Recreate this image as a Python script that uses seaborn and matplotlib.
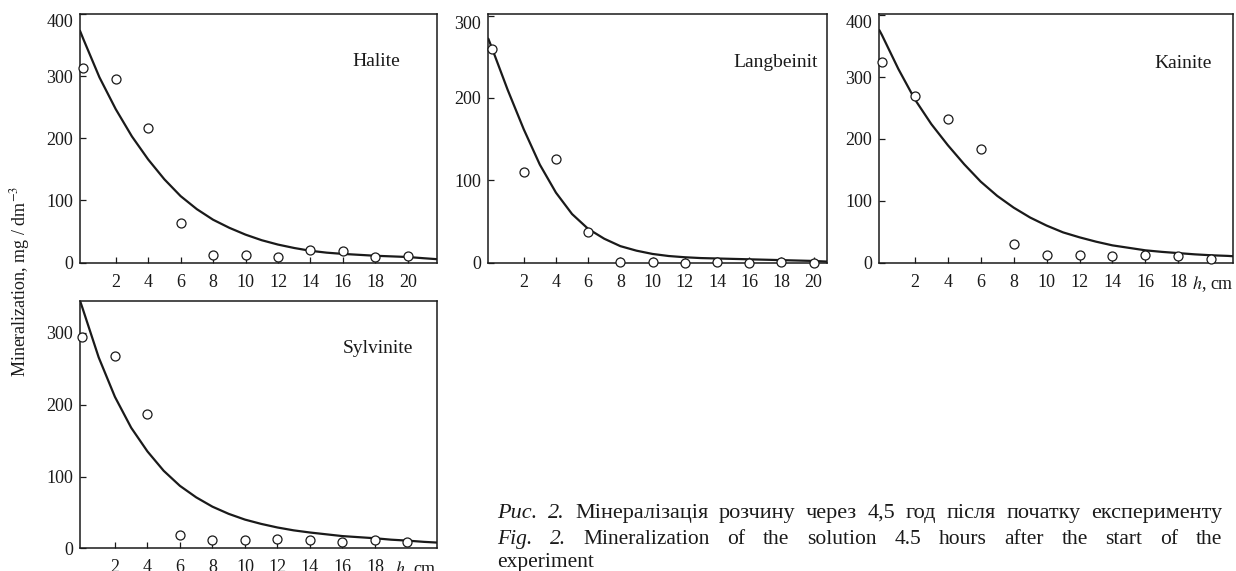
import matplotlib
matplotlib.use("Agg")
import matplotlib.pyplot as plt
import seaborn as sns

# observation depths, cm
h = [0, 2, 4, 6, 8, 10, 12, 14, 16, 18, 20]

halite_obs = [313, 295, 217, 63, 13, 13, 9, 20, 19, 9, 10]
langbeinit_obs = [260, 110, 126, 37, 1, 1, 0, 1, 0, 1, 0]
kainite_obs = [324, 269, 232, 183, 30, 13, 12, 11, 12, 11, 6]
sylvinite_obs = [294, 268, 187, 19, 11, 11, 13, 11, 9, 11, 9]

# fitted curves
halite_cx = [-0.2, 0, 1, 2, 3, 4, 5, 6, 7, 8, 9, 10, 11, 12, 13, 14, 15, 16, 17, 18, 19, 20, 21, 21.8]
halite_cy = [373, 360, 298, 247, 203, 166, 134, 107, 86, 69, 56, 45, 36, 29, 23.5, 19, 16, 14, 12.5, 11, 10, 9, 7, 5.5]
langbeinit_cx = [-0.2, 0, 1, 2, 3, 4, 5, 6, 7, 8, 9, 10, 11, 12, 13, 14, 15, 16, 17, 18, 19, 20, 20.85]
langbeinit_cy = [272, 262, 210, 162, 119, 85, 59, 41, 29, 20, 14.5, 10.5, 8, 6.5, 5.5, 5, 4.5, 4, 3.5, 3, 2.5, 2, 1.2]
kainite_cx = [-0.16, 0, 1, 2, 3, 4, 5, 6, 7, 8, 9, 10, 11, 12, 13, 14, 15, 16, 17, 18, 19, 20, 21, 21.3]
kainite_cy = [376, 368, 313, 264, 224, 190, 159, 131, 108, 89, 73, 60, 49, 41, 34, 28, 24, 20, 17.5, 15.5, 13.5, 12, 11, 10.5]
sylvinite_cx = [-0.15, 0, 1, 2, 3, 4, 5, 6, 7, 8, 9, 10, 11, 12, 13, 14, 15, 16, 17, 18, 19, 20, 21, 21.8]
sylvinite_cy = [345, 335, 266, 211, 168, 135, 108, 87, 71, 58, 48, 40, 34, 29, 25, 22, 19.5, 17, 15.5, 14, 12, 10.7, 9, 8]

W, H = 1236, 571
INK = "#1a1a1a"

sns.set_theme(style="white")
plt.rcParams["font.family"] = ["Liberation Serif", "DejaVu Serif"]
plt.rcParams["mathtext.fontset"] = "stix"

fig = plt.figure(figsize=(W / 100, H / 100), dpi=100)


def px_box(l, t, r, b):
    return [l / W, 1 - b / H, (r - l) / W, (b - t) / H]


def panel(box, name, obs, cx, cy, xlim, ylim, yticks, xticks, label_xy, hcm_x=None):
    ax = fig.add_axes(px_box(*box))
    sns.lineplot(x=cx, y=cy, ax=ax, color=INK, linewidth=1.6, estimator=None, sort=False)
    sns.scatterplot(x=h, y=obs, ax=ax, marker="o", s=42, color="white",
                    edgecolor=INK, linewidth=0.9, zorder=3, clip_on=False)
    ax.set_xlim(*xlim)
    ax.set_ylim(*ylim)
    ax.set_xticks(xticks)
    ax.set_yticks(yticks)
    ax.set_xlabel("")
    ax.set_ylabel("")
    ax.tick_params(direction="in", length=4, width=0.9, labelsize=13,
                   colors=INK, top=False, right=False, bottom=True, left=True)
    ax.tick_params(axis="x", pad=8)
    ax.tick_params(axis="y", pad=5)
    # the topmost label sits inside the frame, as in print
    for tk, lab in zip(ax.get_yticks(), ax.get_yticklabels()):
        if tk >= ylim[1] - 5:
            lab.set_verticalalignment("top")
    for s in ax.spines.values():
        s.set_visible(True)
        s.set_color(INK)
        s.set_linewidth(1.1)
    ax.text(label_xy[0], label_xy[1], name, transform=ax.transAxes,
            ha="center", va="center", fontsize=14, color=INK)
    if hcm_x is not None:
        ax.annotate("$h$, cm", xy=(hcm_x, 0), xycoords=("data", "axes fraction"),
                    xytext=(0, -8), textcoords="offset points",
                    ha="center", va="top", fontsize=13, color=INK)
    return ax


ticks20 = [2, 4, 6, 8, 10, 12, 14, 16, 18, 20]
ticks18 = [2, 4, 6, 8, 10, 12, 14, 16, 18]

panel((80, 14, 437, 262.6), "Halite", halite_obs, halite_cx, halite_cy,
      (-0.2, 21.8), (0, 400), [0, 100, 200, 300, 400], ticks20, (0.83, 0.807))
panel((488.3, 14, 827.3, 262.6), "Langbeinit", langbeinit_obs, langbeinit_cx, langbeinit_cy,
      (-0.2, 20.85), (0, 302), [0, 100, 200, 300], ticks20, (0.847, 0.803))
panel((879.3, 14, 1232.7, 262.7), "Kainite", kainite_obs, kainite_cx, kainite_cy,
      (-0.16, 21.3), (0, 402), [0, 100, 200, 300, 400], ticks18, (0.86, 0.80), hcm_x=20.1)
panel((80, 300.7, 436.7, 548.3), "Sylvinite", sylvinite_obs, sylvinite_cx, sylvinite_cy,
      (-0.15, 21.8), (0, 345), [0, 100, 200, 300], ticks18, (0.835, 0.805), hcm_x=20.5)

fig.text(20 / W, 1 - 281 / H, "Mineralization, mg / dm$^{-3}$", rotation=90,
         ha="center", va="center", fontsize=13, color=INK)

# caption, justified between two edges like the printed figure
renderer = fig.canvas.get_renderer()


def caption_line(words, x0, x1, base, size, justify=True):
    arts = [fig.text(0, 1 - base / H, w, fontsize=size, color=INK, va="baseline", ha="left",
                     style="italic" if it else "normal") for w, it in words]
    widths = [a.get_window_extent(renderer).width for a in arts]
    if justify and len(arts) > 1:
        gap = (x1 - x0 - sum(widths)) / (len(arts) - 1)
    else:
        gap = 0
    x = x0
    for a, w in zip(arts, widths):
        a.set_x(x / W)
        x += w + gap


line1 = [("Рис.", True), ("2.", True), ("Мінералізація", False), ("розчину", False),
         ("через", False), ("4,5", False), ("год", False), ("після", False),
         ("початку", False), ("експерименту", False)]
line2 = [("Fig.", True), ("2.", True), ("Mineralization", False), ("of", False), ("the", False),
         ("solution", False), ("4.5", False), ("hours", False), ("after", False), ("the", False),
         ("start", False), ("of", False), ("the", False)]
line3 = [("experiment", False)]

caption_line(line1, 497, 1222, 518, 16)
caption_line(line2, 497, 1222, 544, 15.5)
caption_line(line3, 497, 1222, 567, 15.5, justify=False)

fig.savefig("out.png", dpi=100)
